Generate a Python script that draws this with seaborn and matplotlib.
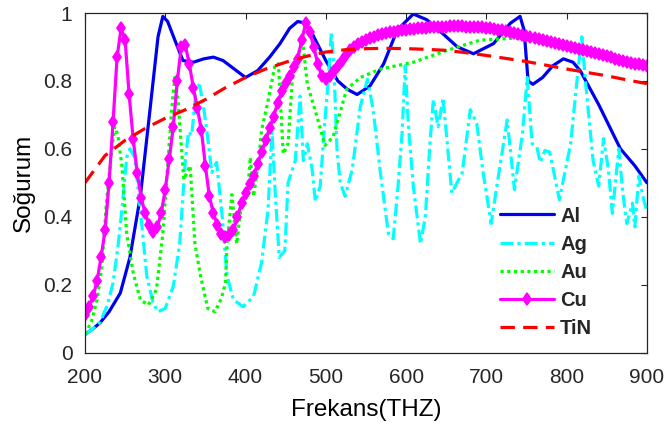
import numpy as np
import pandas as pd
import matplotlib
matplotlib.use('Agg')
import matplotlib.pyplot as plt
import seaborn as sns

# Al
al_f = [200, 210, 219, 230, 244, 256, 269, 281, 291, 297, 303, 312, 322, 335, 348, 360, 372, 386,
        400, 415, 430, 443, 455, 465, 475, 484, 500, 515, 527, 539, 555, 572, 589, 609, 626, 643,
        664, 684, 709, 730, 742, 747, 752, 758, 770, 783, 796, 808, 817, 840, 867, 885, 900]
al_v = [0.053, 0.07, 0.088, 0.12, 0.175, 0.28, 0.46, 0.715, 0.93, 0.99, 0.975, 0.92, 0.86, 0.855,
        0.865, 0.87, 0.86, 0.835, 0.81, 0.83, 0.87, 0.91, 0.955, 0.975, 0.97, 0.935, 0.86, 0.80,
        0.775, 0.76, 0.785, 0.85, 0.95, 0.997, 0.98, 0.945, 0.90, 0.88, 0.91, 0.97, 0.99, 0.95,
        0.80, 0.79, 0.81, 0.845, 0.865, 0.855, 0.83, 0.73, 0.60, 0.55, 0.50]

# Ag
ag_f = [200, 210, 219, 228, 235, 241, 246, 252, 256, 262, 269, 277, 285, 291, 300, 310, 318, 325,
        329, 333, 339, 343, 347, 352, 358, 364, 371, 377, 385, 397, 410, 420, 428, 433, 437, 442,
        449, 453, 462, 468, 472, 477, 483, 487, 493, 499, 503, 507, 510, 514, 518, 524, 533, 543,
        552, 559, 568, 578, 584, 590, 595, 599, 603, 609, 618, 624, 630, 634, 640, 646, 651, 657,
        670, 680, 688, 696, 706, 717, 726, 735, 745, 751, 757, 763, 767, 773, 779, 791, 805, 815,
        819, 823, 833, 840, 846, 852, 857, 865, 870, 875, 882, 885, 890, 895, 900]
ag_v = [0.053, 0.07, 0.09, 0.14, 0.205, 0.31, 0.42, 0.575, 0.60, 0.575, 0.42, 0.225, 0.145, 0.12,
        0.13, 0.195, 0.32, 0.565, 0.65, 0.64, 0.79, 0.785, 0.735, 0.65, 0.53, 0.56, 0.40, 0.225,
        0.155, 0.135, 0.165, 0.265, 0.42, 0.65, 0.47, 0.28, 0.30, 0.50, 0.565, 0.755, 0.565, 0.615,
        0.54, 0.445, 0.49, 0.685, 0.80, 0.945, 0.85, 0.595, 0.50, 0.46, 0.54, 0.725, 0.805, 0.715,
        0.53, 0.35, 0.335, 0.49, 0.645, 0.845, 0.665, 0.49, 0.32, 0.40, 0.625, 0.745, 0.665, 0.75,
        0.625, 0.47, 0.53, 0.715, 0.675, 0.53, 0.38, 0.55, 0.685, 0.48, 0.645, 0.81, 0.615, 0.605,
        0.56, 0.595, 0.59, 0.45, 0.615, 0.85, 0.93, 0.81, 0.565, 0.49, 0.63, 0.54, 0.41, 0.60,
        0.47, 0.38, 0.44, 0.37, 0.52, 0.46, 0.415]

# Au
au_f = [200, 208, 215, 221, 227, 234, 237, 241, 246, 252, 260, 269, 279, 289, 297, 303, 308, 312,
        316, 323, 331, 337, 344, 353, 362, 370, 375, 377, 383, 389, 393, 397, 402, 406, 410, 416,
        420, 428, 437, 441, 447, 453, 459, 471, 477, 489, 499, 509, 526, 543, 568, 609, 651, 692,
        726, 746, 770, 800, 850, 900]
au_v = [0.055, 0.09, 0.155, 0.25, 0.45, 0.61, 0.665, 0.64, 0.55, 0.35, 0.235, 0.155, 0.14, 0.185,
        0.35, 0.55, 0.715, 0.81, 0.74, 0.51, 0.55, 0.32, 0.225, 0.13, 0.12, 0.16, 0.205, 0.32,
        0.465, 0.32, 0.40, 0.46, 0.45, 0.575, 0.46, 0.56, 0.655, 0.74, 0.85, 0.85, 0.585, 0.615,
        0.83, 0.92, 0.79, 0.695, 0.61, 0.635, 0.775, 0.81, 0.835, 0.855, 0.89, 0.92, 0.925, 0.925,
        0.92, 0.905, 0.875, 0.85]

# Cu (one sample every 5 THz, 200..900)
cu_f = list(range(200, 905, 5))
cu_v = [0.11, 0.135, 0.165, 0.21, 0.28, 0.36, 0.50, 0.68, 0.87, 0.955,
        0.92, 0.76, 0.63, 0.53, 0.455, 0.41, 0.375, 0.355, 0.37, 0.41,
        0.48, 0.57, 0.665, 0.80, 0.90, 0.905, 0.85, 0.78, 0.72, 0.655,
        0.55, 0.46, 0.41, 0.375, 0.35, 0.34, 0.345, 0.36, 0.40, 0.44,
        0.47, 0.495, 0.52, 0.555, 0.59, 0.625, 0.66, 0.695, 0.735, 0.77,
        0.795, 0.815, 0.84, 0.865, 0.92, 0.97, 0.945, 0.90, 0.85, 0.815,
        0.805,
        0.815, 0.83, 0.845, 0.86, 0.875, 0.89, 0.90, 0.91, 0.915, 0.92,
        0.925, 0.93, 0.935, 0.938, 0.94, 0.943, 0.945, 0.947, 0.949, 0.95,
        0.952, 0.954, 0.955, 0.956, 0.957, 0.958, 0.959, 0.96, 0.96, 0.96,
        0.961, 0.961, 0.961, 0.961, 0.96, 0.96, 0.96, 0.959, 0.958, 0.957,
        0.955, 0.953, 0.951, 0.949, 0.947, 0.945, 0.942, 0.939, 0.935, 0.932,
        0.929, 0.926, 0.923, 0.92, 0.917, 0.914, 0.911, 0.908, 0.905, 0.902,
        0.899, 0.896, 0.893, 0.89, 0.887, 0.884, 0.881, 0.878, 0.875, 0.872,
        0.869, 0.866, 0.863, 0.86, 0.857, 0.854, 0.851, 0.849, 0.847, 0.845]

# TiN
tin_f = [200, 225, 250, 275, 300, 325, 350, 375, 400, 425, 450, 475, 500, 525, 550, 575, 600,
         625, 650, 675, 700, 725, 750, 775, 800, 825, 850, 875, 900]
tin_v = [0.50, 0.58, 0.625, 0.66, 0.69, 0.715, 0.745, 0.78, 0.81, 0.835, 0.855, 0.872, 0.885,
         0.892, 0.895, 0.896, 0.895, 0.893, 0.89, 0.883, 0.875, 0.866, 0.857, 0.846, 0.835, 0.825,
         0.815, 0.803, 0.792]

sns.set_style('white')
plt.rcParams['font.family'] = ['Liberation Sans', 'DejaVu Sans']

fig = plt.figure(figsize=(6.68, 4.28), dpi=100)
ax = fig.add_axes([0.1272, 0.1764, 0.8412, 0.7932])

lw = 2.3
sns.lineplot(x=al_f, y=al_v, ax=ax, color='#0000f0', lw=lw, label='Al', errorbar=None)
sns.lineplot(x=ag_f, y=ag_v, ax=ax, color='#00ffff', lw=lw, label='Ag', errorbar=None,
             linestyle=(0, (4, 1.3, 1, 1.3)))
sns.lineplot(x=au_f, y=au_v, ax=ax, color='#00ff00', lw=lw, label='Au', errorbar=None,
             linestyle=(0, (1, 1.1)))
sns.lineplot(x=cu_f, y=cu_v, ax=ax, color='#ff00ff', lw=lw, label='Cu', errorbar=None,
             marker='d', markersize=6, markeredgewidth=1.2, markeredgecolor='#ff00ff')
sns.lineplot(x=tin_f, y=tin_v, ax=ax, color='#ff0000', lw=lw, label='TiN', errorbar=None,
             linestyle=(0, (4.5, 2.6)))

ax.set_xlim(200, 900)
ax.set_ylim(0, 1)
ax.set_xticks(range(200, 901, 100))
ax.set_yticks([0, 0.2, 0.4, 0.6, 0.8, 1])
ax.set_yticklabels(['0', '0.2', '0.4', '0.6', '0.8', '1'])
ax.tick_params(direction='in', length=4, width=0.8, top=True, right=True,
               labelsize=15, colors='#262626')
ax.tick_params(axis='x', pad=11)
ax.tick_params(axis='y', pad=9)
for s in ax.spines.values():
    s.set_visible(True)
    s.set_color('#262626')
    s.set_linewidth(0.9)

ax.set_xlabel('Frekans(THZ)', fontsize=17.5, color='#000000', labelpad=9)
ax.set_ylabel('Soğurum', fontsize=17.5, color='#000000', labelpad=6)

leg = ax.legend(loc='upper left', bbox_to_anchor=(0.738, 0.43), frameon=False,
                prop={'weight': 'bold', 'size': 14.5}, handlelength=2.7,
                handletextpad=0.3, labelspacing=0.45, borderpad=0, borderaxespad=0)

fig.savefig('out.png', dpi=100)
